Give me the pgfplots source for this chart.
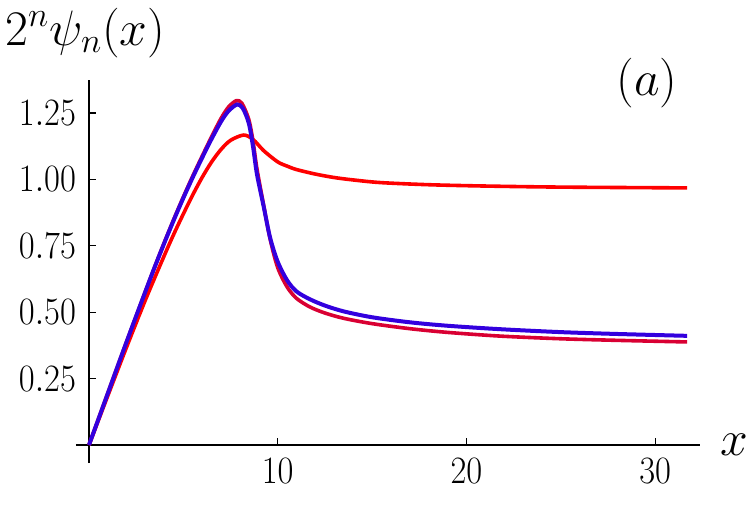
\documentclass[border=0pt]{standalone}
\usepackage{pgfplots}
\pgfplotsset{compat=1.18}
\definecolor{cA}{rgb}{1,0,0}
\definecolor{cB}{rgb}{0.85,0,0.2}
\definecolor{cC}{rgb}{0.2,0,0.87}
\begin{document}
\begin{tikzpicture}
\useasboundingbox (-44.5pt,-30pt) rectangle (330.5pt,222.5pt);
\begin{axis}[
  anchor=origin, at={(0pt,0pt)},
  x=9.435pt, y=132.8pt,
  xmin=-0.7, xmax=32.4, ymin=-0.068, ymax=1.374,
  axis lines=middle,
  axis line style={-, line width=0.6pt},
  tick align=inside,
  major tick length=3.5pt,
  tick style={line width=0.6pt, black},
  xtick={10,20,30},
  ytick={0.25,0.5,0.75,1,1.25},
  yticklabel={\scalebox{1}[1.12]{$\pgfmathprintnumber[fixed,precision=2,fixed zerofill]{\tick}$}},
  xticklabel={\scalebox{1}[1.12]{$\pgfmathprintnumber{\tick}$}},
  yticklabel style={xshift=-3pt},
  xticklabel style={yshift=-3pt},
  ticklabel style={font=\fontsize{19}{22}\selectfont},
  clip=false,
]
\addplot[color=cA, line width=1.8pt, smooth, tension=0.5] coordinates {
(0,0) (1,0.186) (2,0.37) (3,0.548) (4,0.715) (4.5,0.795) (5,0.87) (5.5,0.942) (6,1.008) (6.5,1.066) (7,1.113) (7.5,1.147) (8.2,1.167) (8.7,1.15) (9.26,1.108) (10,1.066) (10.5,1.05) (11,1.037) (12,1.02) (13,1.007) (14,0.998) (15.45,0.988) (18,0.98) (21,0.975) (25,0.971) (31.7,0.968)
};
\addplot[color=cB, line width=1.8pt, smooth, tension=0.5] coordinates {
(0,0) (1,0.196) (2,0.39) (3,0.58) (3.5,0.674) (4,0.764) (4.5,0.851) (5,0.934) (5.5,1.013) (6,1.088) (6.5,1.161) (7,1.23) (7.4,1.273) (7.8,1.296) (8.1,1.287) (8.47,1.225) (8.7,1.14) (8.9,1.04) (9.25,0.905) (9.6,0.775) (10.0,0.668) (10.5,0.595) (11,0.552) (11.7,0.52) (12.5,0.497) (13.5,0.477) (15,0.457) (17,0.438) (19,0.424) (21.8,0.41) (25,0.4) (28,0.394) (31.7,0.388)
};
\addplot[color=cC, line width=2pt, smooth, tension=0.5] coordinates {
(0,0) (1,0.195) (2,0.39) (3,0.58) (3.5,0.673) (4,0.762) (4.5,0.848) (5,0.93) (5.5,1.008) (6,1.082) (6.5,1.153) (7,1.218) (7.4,1.258) (7.85,1.282) (8.15,1.268) (8.47,1.211) (8.7,1.12) (8.9,1.02) (9.25,0.9) (9.6,0.78) (10.0,0.69) (10.5,0.62) (11,0.578) (11.7,0.549) (12.5,0.525) (13.5,0.503) (15,0.481) (17,0.462) (19,0.449) (21.8,0.436) (25,0.425) (28,0.418) (31.7,0.411)
};
\end{axis}
\node[anchor=base west, inner sep=0pt, font=\fontsize{24}{28}\selectfont] at (-42pt,200pt) {$2^n\psi_n(x)$};
\node[anchor=west, inner sep=0pt, font=\fontsize{24}{28}\selectfont] at (315.5pt,0pt) {$x$};
\node[anchor=base, inner sep=0pt, font=\fontsize{24}{28}\selectfont] at (279pt,174.75pt) {$(a)$};
\end{tikzpicture}
\end{document}
